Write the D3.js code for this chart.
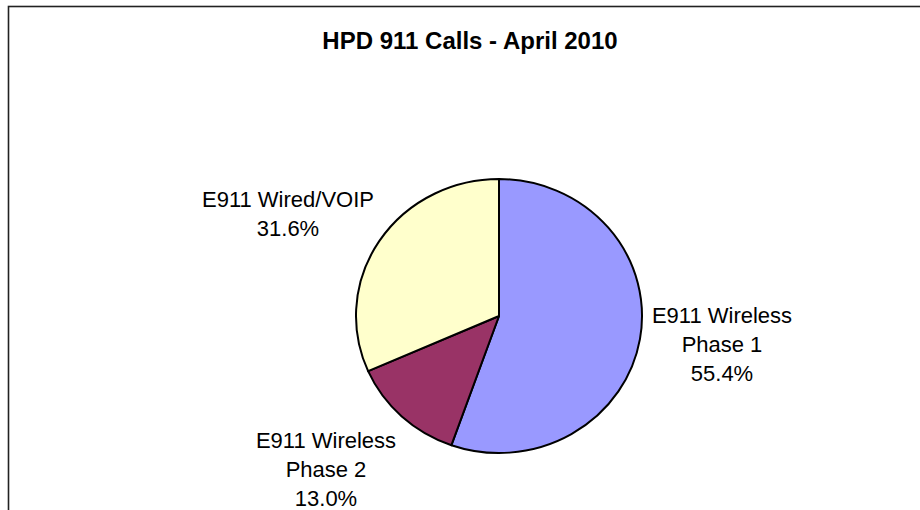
<!DOCTYPE html>
<html>
<head>
<meta charset="utf-8">
<script src="https://cdn.jsdelivr.net/npm/d3@7"></script>
<style>
  body { margin: 0; background: #fff; }
  svg { display: block; }
  text { font-family: "Liberation Sans", Arial, sans-serif; fill: #000; }
</style>
</head>
<body>
<script>
var categories = ["E911 Wireless Phase 1", "E911 Wireless Phase 2", "E911 Wired/VOIP"];
var values = [55.4, 13.0, 31.6];
var labelLines = [["E911 Wireless", "Phase 1", "55.4%"],
                  ["E911 Wireless", "Phase 2", "13.0%"],
                  ["E911 Wired/VOIP", "31.6%"]];
var colors = ["#9999FF", "#993366", "#FFFFCC"];

var width = 920, height = 510;
var cx = 499, cy = 316, rx = 143, ry = 137, r = 140;

var svg = d3.select("body").append("svg")
    .attr("width", width)
    .attr("height", height);

// chart area border (right/bottom edges fall outside the picture)
svg.append("rect")
    .attr("x", 8.5).attr("y", 6.5)
    .attr("width", 1000).attr("height", 1000)
    .attr("fill", "none")
    .attr("stroke", "#222")
    .attr("stroke-width", 1.6);

svg.append("text")
    .attr("x", 470).attr("y", 49)
    .attr("text-anchor", "middle")
    .style("font-size", "24px")
    .style("font-weight", "bold")
    .text("HPD 911 Calls - April 2010");

var pie = d3.pie().sort(null).value(function(d) { return d; });
var arc = d3.arc().innerRadius(0).outerRadius(r);
var arcs = pie(values);

var g = svg.append("g")
    .attr("transform", "translate(" + cx + "," + cy + ") scale(" + (rx / r) + "," + (ry / r) + ")");

g.selectAll("path")
    .data(arcs)
    .enter().append("path")
    .attr("d", arc)
    .attr("fill", function(d, i) { return colors[i]; })
    .attr("stroke", "#000")
    .attr("stroke-width", 2)
    .attr("vector-effect", "non-scaling-stroke")
    .attr("stroke-linejoin", "round");

// label anchors (center x, first baseline)
var labelPos = [[722, 323], [326, 448], [288, 207]];
var lineGap = 29;

labelLines.forEach(function(lines, i) {
  var t = svg.append("text")
      .attr("text-anchor", "middle")
      .style("font-size", "22px");
  lines.forEach(function(s, j) {
    t.append("tspan")
        .attr("x", labelPos[i][0])
        .attr("y", labelPos[i][1] + j * lineGap)
        .text(s);
  });
});
</script>
</body>
</html>
